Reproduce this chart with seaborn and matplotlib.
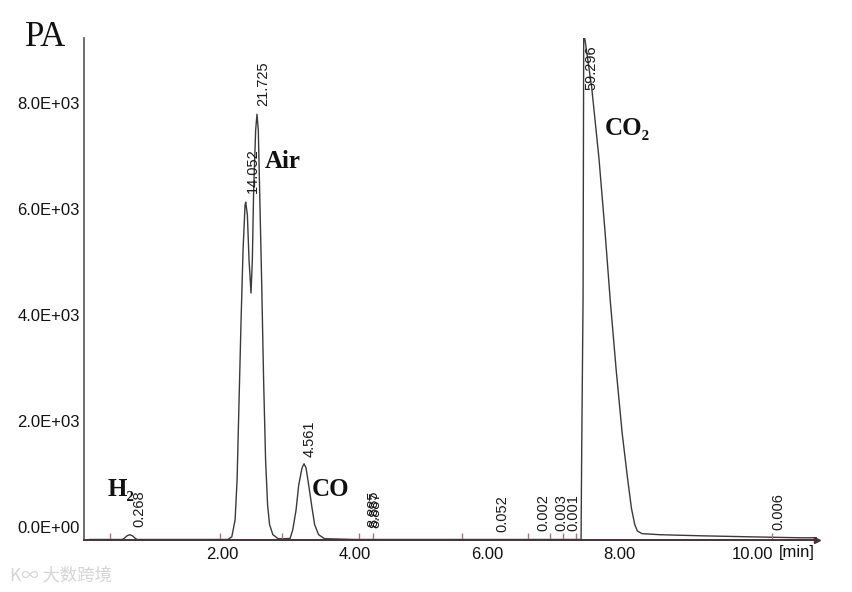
import matplotlib
matplotlib.use('Agg')
import matplotlib.pyplot as plt
import seaborn as sns
import numpy as np

# chromatogram trace (time in min, signal in PA)
time = [0.00, 0.50, 0.53, 0.57, 0.61, 0.65, 0.69, 0.72, 2.09, 2.15, 2.20, 2.23,
        2.26, 2.29, 2.32, 2.35, 2.36, 2.385, 2.41, 2.44, 2.46, 2.48, 2.51, 2.53,
        2.55, 2.57, 2.60, 2.63, 2.66, 2.69, 2.72, 2.77, 2.85, 2.95, 3.03, 3.07,
        3.12, 3.16, 3.21, 3.24, 3.27, 3.31, 3.36, 3.40, 3.46, 3.55, 4.00, 6.00,
        7.42, 7.43, 7.45, 7.46, 7.48, 7.58, 7.69, 7.78, 7.86, 7.95, 8.04, 8.12,
        8.18, 8.23, 8.27, 8.34, 8.61, 9.21, 9.97, 10.72, 10.98]
signal = [-240, -240, -215, -170, -150, -170, -215, -240, -240, -190, 130, 890,
          2400, 3900, 5230, 6075, 6130, 5890, 5040, 4415, 5040, 6360, 7490, 7790,
          7490, 6360, 4660, 2770, 1260, 415, 40, -150, -225, -225, -220, -57,
          320, 790, 1113, 1190, 1113, 790, 360, 40, -150, -225, -240, -240,
          -240, 1490, 4280, 9300, 9190, 8300, 6960, 5600, 4280, 2960, 1770, 930,
          350, 40, -80, -130, -150, -170, -190, -208, -208]

# integration event markers on the baseline
event_times = [0.31, 1.97, 2.91, 4.07, 4.28, 5.62, 6.62, 6.95, 7.15, 7.34, 10.30]

# peak area labels: text, time, signal where the text starts
peak_labels = ['0.268', '14.052', '21.725', '4.561', '8.885', '8.887',
               '0.052', '0.002', '0.003', '0.001', '59.296', '0.006']
peak_label_t = [0.76, 2.47, 2.63, 3.33, 4.29, 4.31, 6.23, 6.85, 7.12, 7.31, 7.58, 10.39]
peak_label_y = [0, 6300, 7940, 1320, 0, -20, -90, -75, -75, -75, 8245, -60]

# compound names
compounds = ['H₂', 'Air', 'CO', 'CO₂']
compound_t = [0.28, 2.65, 3.36, 7.77]
compound_y = [700, 6900, 700, 7530]

y_ticks = [0, 2000, 4000, 6000, 8000]
x_ticks = [2, 4, 6, 8, 10]

sns.set_style('white')
plt.rcParams['font.family'] = ['Liberation Sans', 'DejaVu Sans']

fig = plt.figure(figsize=(8.53, 5.92), dpi=100)
ax = fig.add_axes([84 / 853, 1 - 540 / 592, (817 - 84) / 853, (540 - 38) / 592])

sns.lineplot(x=time, y=signal, ax=ax, color='#3a3a3a', linewidth=1.0)

ax.vlines(event_times, -245, -110, color='#a8708f', linewidth=1.0)

ax.set_xlim(-0.08, 10.98)
ax.set_ylim(-250, 9230)

ax.set_xticks(x_ticks)
ax.set_xticklabels([f'{v:.2f}' for v in x_ticks])
ax.set_yticks(y_ticks)
ax.set_yticklabels([f'{v / 1000:.1f}E+03' if v else '0.0E+00' for v in y_ticks])
ax.tick_params(axis='both', length=0, labelsize=12, colors='#111111')
ax.tick_params(axis='x', pad=5)
ax.tick_params(axis='y', pad=3)

for side in ['top', 'right']:
    ax.spines[side].set_visible(False)
ax.spines['left'].set_color('#555555')
ax.spines['left'].set_linewidth(1.2)
ax.spines['bottom'].set_color('#4a3038')
ax.spines['bottom'].set_linewidth(1.4)
ax.plot(1, 0, marker='>', color='#4a3038', markersize=4,
        transform=ax.transAxes, clip_on=False)

for txt, t, y in zip(peak_labels, peak_label_t, peak_label_y):
    ax.text(t, y, txt, rotation=90, ha='center', va='bottom',
            fontsize=10.5, color='#1a1a1a')

for txt, t, y in zip(compounds, compound_t, compound_y):
    ax.text(t, y, txt, ha='left', va='center', fontsize=18, fontweight='bold',
            family=['Liberation Serif', 'DejaVu Serif'], color='#111111')

fig.text(25 / 853, 1 - 38 / 592, 'PA', ha='left', va='center', fontsize=25,
         family=['Liberation Serif', 'DejaVu Serif'], color='#111111')
fig.text(797 / 853, 1 - 553 / 592, '[min]', ha='center', va='center',
         fontsize=12, color='#111111')

# faint watermark in the corner
fig.text(10 / 853, 1 - 575 / 592, 'K∞ 大数跨境', ha='left', va='center',
         fontsize=12.5, color='#d4d4d4',
         family=['Noto Sans CJK SC', 'DejaVu Sans'])

fig.savefig('out.png', dpi=100)
plt.close(fig)
